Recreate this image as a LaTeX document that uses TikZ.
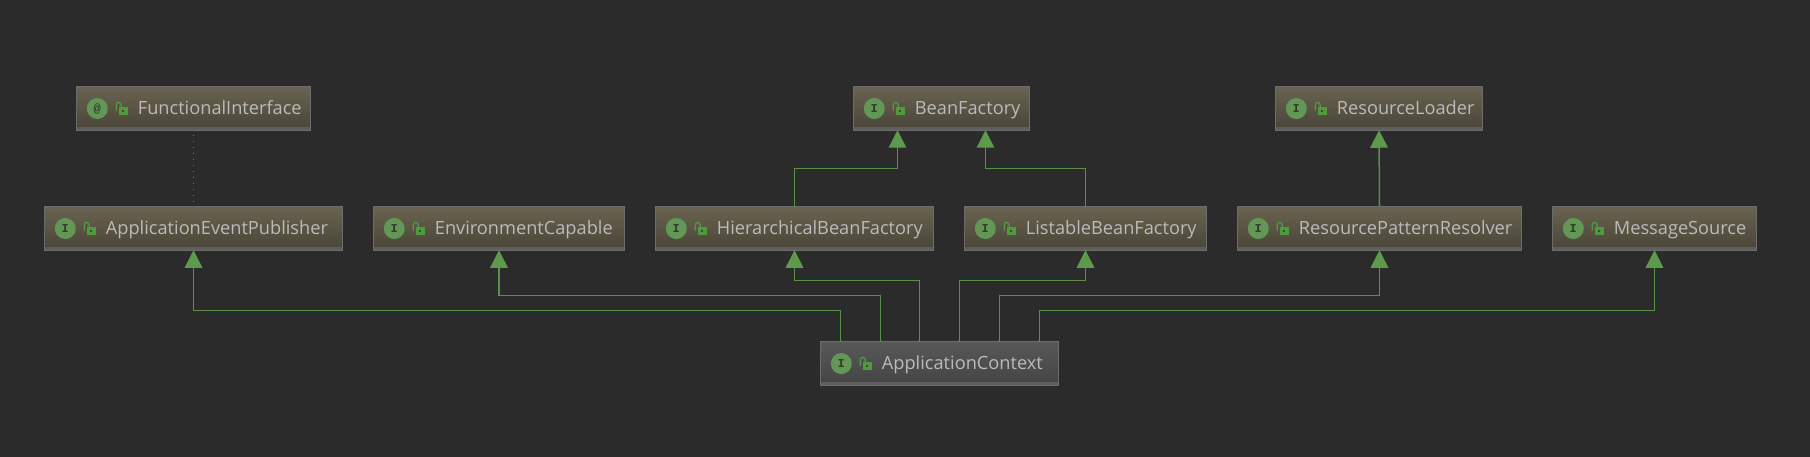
\documentclass[tikz,border=0pt]{standalone}
\usepackage{fontspec}
\setmainfont{Open Sans}
\newfontfamily\iconfont{Liberation Mono}
\usetikzlibrary{arrows.meta}
\definecolor{bgc}{HTML}{2B2B2B}
\definecolor{edgec}{HTML}{5B8F4A}
\definecolor{tipc}{HTML}{5E9A4E}
\definecolor{framec}{HTML}{6C6C6C}
\definecolor{bandc}{HTML}{5E5E5C}
\definecolor{boxtop}{HTML}{6A6351}
\definecolor{boxbot}{HTML}{484436}
\definecolor{acttop}{HTML}{585858}
\definecolor{actbot}{HTML}{444444}
\definecolor{txtc}{HTML}{BBBBBB}
\definecolor{circc}{HTML}{629755}
\definecolor{lockc}{HTML}{4F9A3F}
\definecolor{letterc}{HTML}{2F3A2B}
\definecolor{dotc}{HTML}{858500}
\tikzset{
  x=1pt,y=-1pt,
  umlbox/.style={draw=framec,line width=1.2pt,top color=boxtop,bottom color=boxbot,inner sep=0pt,outer sep=0pt,minimum height=43.5pt},
  umlctx/.style={umlbox,top color=acttop,bottom color=actbot},
  umltext/.style={anchor=base west,inner sep=0pt,text=txtc,font=\fontsize{18.2}{22}\selectfont},
  umlicon/.style={circle,fill=circc,minimum size=21pt,inner sep=0pt,text=letterc,font=\iconfont\bfseries\fontsize{12}{12}\selectfont},
  inh/.style={draw=edgec,line width=1.5pt,-{Triangle[length=17.5pt,width=17.5pt,color=tipc]}},
  dep/.style={draw=dotc,line width=1pt,dash pattern=on 1pt off 5pt},
}
% name, left, right, top, style, letter, text
\newcommand{\umlnode}[7]{%
  \node[#5,minimum width=#3pt-#2pt] (#1) at ({(#2+#3)/2},{#4+22}) {};
  \fill[bandc] ([xshift=.6pt,yshift=3pt]#1.south west) rectangle ([xshift=-.6pt,yshift=.6pt]#1.south east);
  \begin{scope}[shift={(#1.north west)}]
    \node[umlicon] (#1-icon) at (20.8,21.8) {#6};
    \fill[lockc] (42,20.3) rectangle (51,27.8);
    \fill[boxbot] (45.7,23.2) rectangle (47.3,24.8);
    \draw[lockc,line width=1.3pt] (39.7,24) -- (39.7,18.6) .. controls (39.7,14.6) and (44.7,14.6) .. (44.7,18.6) -- (44.7,20.6);
    \node[umltext] (#1-text) at (61.2,27.9) {#7};
  \end{scope}
}
\begin{document}
\begin{tikzpicture}
\useasboundingbox (0,0) rectangle (1810,457);
\fill[bgc] (0,0) rectangle (1810,457);
\umlnode{fi}{76.5}{310.5}{86.5}{umlbox}{@}{FunctionalInterface}
\umlnode{bf}{853.5}{1029.5}{86.5}{umlbox}{I}{BeanFactory}
\umlnode{rl}{1275.5}{1482.5}{86.5}{umlbox}{I}{ResourceLoader}
\umlnode{aep}{44.5}{342.5}{206.5}{umlbox}{I}{ApplicationEventPublisher}
\umlnode{ec}{373.5}{624.5}{206.5}{umlbox}{I}{EnvironmentCapable}
\umlnode{hbf}{655.5}{933.5}{206.5}{umlbox}{I}{HierarchicalBeanFactory}
\umlnode{lbf}{964.5}{1206.5}{206.5}{umlbox}{I}{ListableBeanFactory}
\umlnode{rpr}{1237.5}{1521.5}{206.5}{umlbox}{I}{ResourcePatternResolver}
\umlnode{ms}{1552.5}{1756.5}{206.5}{umlbox}{I}{MessageSource}
\umlnode{ac}{820.5}{1058.5}{341.5}{umlctx}{I}{ApplicationContext}
\draw[dep] ([yshift=-5pt]fi.south) -- (aep.north);
\draw[inh] (rpr.north) -- (rl.south);
\draw[inh] (hbf.north) -- ++(0,-38.25) -| ([xshift=-44pt]bf.south);
\draw[inh] (lbf.north) -- ++(0,-38.25) -| ([xshift=44pt]bf.south);
\draw[inh] ([xshift=-99pt]ac.north) -- ++(0,-31.25) -| (aep.south);
\draw[inh] ([xshift=-59pt]ac.north) -- ++(0,-46.25) -| (ec.south);
\draw[inh] ([xshift=-20pt]ac.north) -- ++(0,-61.25) -| (hbf.south);
\draw[inh] ([xshift=20pt]ac.north) -- ++(0,-61.25) -| (lbf.south);
\draw[inh] ([xshift=60pt]ac.north) -- ++(0,-46.25) -| (rpr.south);
\draw[inh] ([xshift=100pt]ac.north) -- ++(0,-31.25) -| (ms.south);
\end{tikzpicture}
\end{document}
